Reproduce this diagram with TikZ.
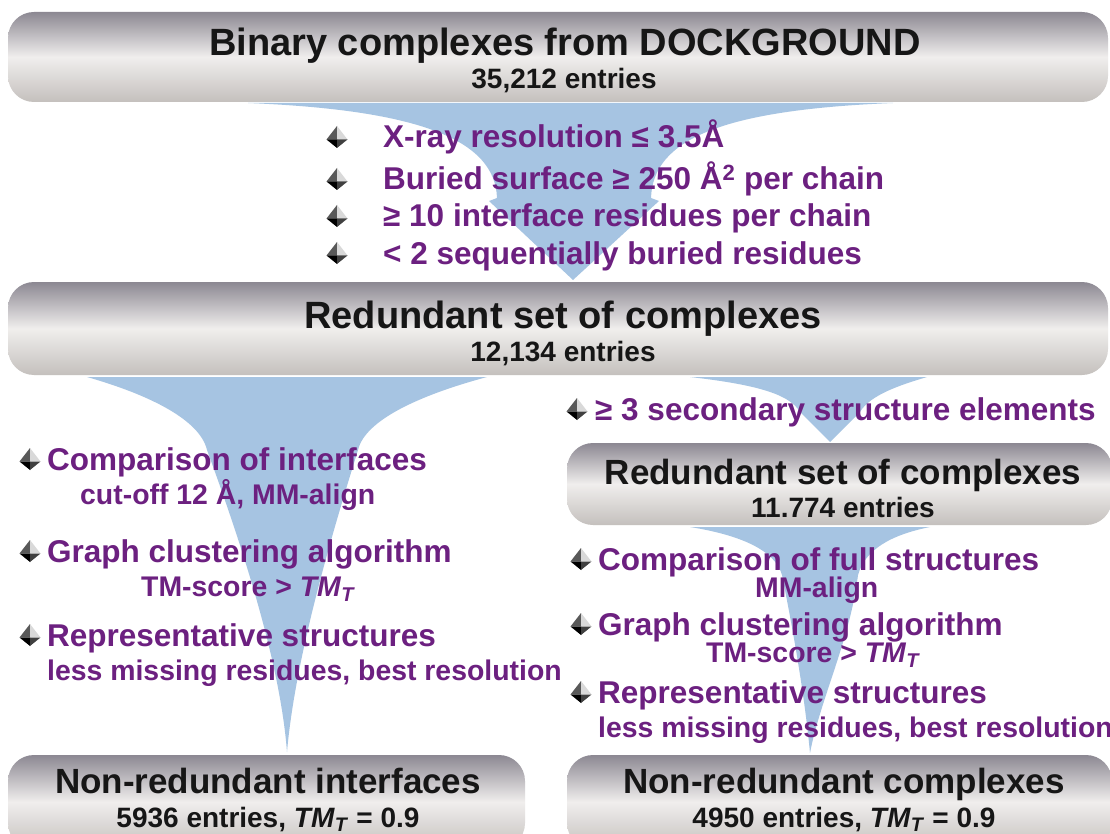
\documentclass[tikz,border=0pt]{standalone}
\usepackage{fontspec}
\setmainfont{Liberation Sans}

\definecolor{funnelblue}{RGB}{166,196,226}
\definecolor{itemtext}{RGB}{108,32,128}
\definecolor{boxtop}{RGB}{140,136,146}
\definecolor{boxmid}{RGB}{240,238,237}
\definecolor{boxbot}{RGB}{196,192,189}
\definecolor{boxtext}{RGB}{22,22,22}

\tikzset{
  stage/.style={rounded corners=26pt, top color=boxtop, bottom color=boxbot, middle color=boxmid, inner sep=0pt},
  bigtitle/.style={anchor=base, inner sep=0pt, text=boxtext, font=\fontsize{38}{44}\selectfont\bfseries},
  stagetitle/.style={anchor=base, inner sep=0pt, text=boxtext, font=\fontsize{35}{40}\selectfont\bfseries},
  countline/.style={anchor=base, inner sep=0pt, text=boxtext, font=\fontsize{28}{32}\selectfont\bfseries},
  crit/.style={anchor=base west, inner sep=0pt, text=itemtext, font=\fontsize{31.5}{36}\selectfont\bfseries},
  detail/.style={anchor=base west, inner sep=0pt, text=itemtext, font=\fontsize{28.4}{32}\selectfont\bfseries},
  funnel/.style={fill=funnelblue, draw=none},
  bulletmark/.pic={
    \fill[gray!70!black] (0,-11) -- (-10.5,2.5) -- (0,2.5) -- cycle;
    \fill[gray!30] (0,-11) -- (0,2.5) -- (10.5,2.5) -- cycle;
    \fill[black] (-10.5,2.5) -- (0,11) -- (0,2.5) -- cycle;
    \fill[gray!50!black] (0,2.5) -- (0,11) -- (10.5,2.5) -- cycle;
  }
}

\newcommand{\tmt}{\textit{TM}\textsubscript{\textit{T}}}

\begin{document}
\begin{tikzpicture}[x=1pt, y=-1pt]
    \useasboundingbox (0,0) rectangle (1110,834);
    \fill[white] (0,0) rectangle (1110,834);
    \clip (0,0) rectangle (1110,834);

    % funnels
    \fill[funnel] (248,103) .. controls (420,110) and (495,140) .. (497,198) -- (489,201) -- (573,280)
        -- (659,201) -- (651,198) .. controls (653,140) and (720,110) .. (893,103) -- cycle;
    \fill[funnel] (87,377) .. controls (150,395) and (200,420) .. (207,450)
        .. controls (240,540) and (280,660) .. (287,752)
        .. controls (295,660) and (330,540) .. (358,450)
        .. controls (365,420) and (420,395) .. (487,377) -- cycle;
    \fill[funnel] (690,377) .. controls (760,385) and (790,395) .. (800,412) -- (830,442)
        -- (860,412) .. controls (870,395) and (900,385) .. (927,377) -- cycle;
    \fill[funnel] (690,527) .. controls (740,535) and (775,550) .. (782,575)
        .. controls (795,640) and (805,700) .. (810,753)
        .. controls (820,700) and (850,640) .. (858,575)
        .. controls (865,550) and (890,535) .. (930,527) -- cycle;

    % stages
    \node[stage, minimum width=1100pt, minimum height=90pt] (dock) at (558,57) {};
    \node[stage, minimum width=1100pt, minimum height=93pt] (redund) at (558,328.5) {};
    \node[stage, minimum width=545pt, minimum height=82pt] (redsse) at (839.5,484) {};
    \node[stage, minimum width=517pt, minimum height=94pt] (nrint) at (266.5,802) {};
    \node[stage, minimum width=545pt, minimum height=94pt] (nrcomp) at (839.5,802) {};

    \node[bigtitle] (docktitle) at (565,56) {Binary complexes from DOCKGROUND};
    \node[countline] (dockcount) at (564,89) {35,212 entries};
    \node[bigtitle] (redundtitle) at (563,328) {Redundant set of complexes};
    \node[countline] (redundcount) at (563,361) {12,134 entries};
    \node[stagetitle] (redssetitle) at (843,484) {Redundant set of complexes};
    \node[countline] (redssecount) at (843,517) {11.774 entries};
    \node[stagetitle] (nrinttitle) at (268,793) {Non-redundant interfaces};
    \node[countline] (nrintcount) at (268,827) {5936 entries, \tmt{} = 0.9};
    \node[stagetitle] (nrcomptitle) at (844,793) {Non-redundant complexes};
    \node[countline] (nrcompcount) at (844,827) {4950 entries, \tmt{} = 0.9};

    % filters
    \pic at (337,137) {bulletmark};
    \pic at (337,179) {bulletmark};
    \pic at (337,216) {bulletmark};
    \pic at (337,253) {bulletmark};
    \node[crit] (xray) at (383,148) {X-ray resolution ≤ 3.5Å};
    \node[crit] (buried) at (383,190) {Buried surface ≥ 250 Å\textsuperscript{2} per chain};
    \node[crit] (ifres) at (383,227) {≥ 10 interface residues per chain};
    \node[crit] (seqres) at (383,264) {< 2 sequentially buried residues};

    \pic at (577,409) {bulletmark};
    \node[crit] (sse) at (595,420) {≥ 3 secondary structure elements};

    \pic at (30,459) {bulletmark};
    \pic at (30,551) {bulletmark};
    \pic at (30,635) {bulletmark};
    \node[crit] (cmpif) at (47,470) {Comparison of interfaces};
    \node[detail] (cmpifd) at (80,504) {cut-off 12 Å, MM-align};
    \node[crit] (clustl) at (47,562) {Graph clustering algorithm};
    \node[detail] (clustld) at (141,596) {TM-score > \tmt};
    \node[crit] (reprl) at (47,646) {Representative structures};
    \node[detail] (repld) at (47,680) {less missing residues, best resolution};

    \pic at (581,559) {bulletmark};
    \pic at (581,624) {bulletmark};
    \pic at (581,692) {bulletmark};
    \node[crit] (cmpfull) at (598,570) {Comparison of full structures};
    \node[detail] (cmpfulld) at (755,597) {MM-align};
    \node[crit] (clustr) at (598,635) {Graph clustering algorithm};
    \node[detail] (clustrd) at (706,662) {TM-score > \tmt};
    \node[crit] (reprr) at (598,703) {Representative structures};
    \node[detail] (reprrd) at (598,737) {less missing residues, best resolution};
\end{tikzpicture}
\end{document}
